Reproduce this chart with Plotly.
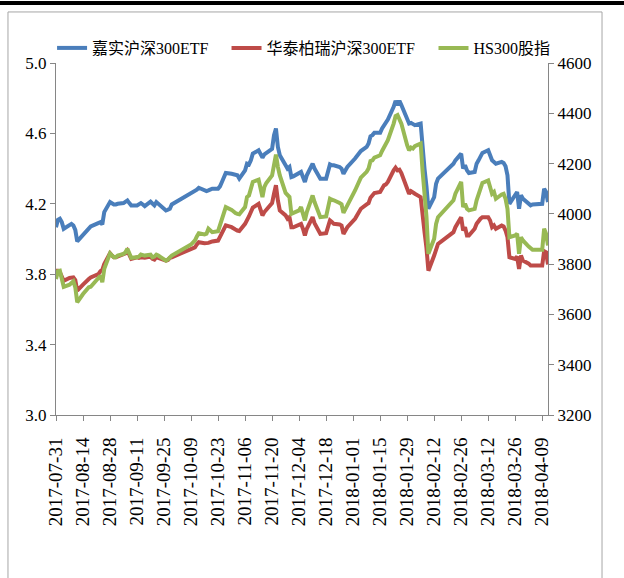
import plotly.graph_objects as go

# Trading dates (2017-07-31 .. 2018-04-12)
dates = [
    "2017-07-31", "2017-08-01", "2017-08-02", "2017-08-03", "2017-08-04",
    "2017-08-07", "2017-08-08", "2017-08-09", "2017-08-10", "2017-08-11",
    "2017-08-14", "2017-08-15", "2017-08-16", "2017-08-17", "2017-08-18",
    "2017-08-21", "2017-08-22", "2017-08-23", "2017-08-24", "2017-08-25",
    "2017-08-28", "2017-08-29", "2017-08-30", "2017-08-31", "2017-09-01",
    "2017-09-04", "2017-09-05", "2017-09-06", "2017-09-07", "2017-09-08",
    "2017-09-11", "2017-09-12", "2017-09-13", "2017-09-14", "2017-09-15",
    "2017-09-18", "2017-09-19", "2017-09-20", "2017-09-21", "2017-09-22",
    "2017-09-25", "2017-09-26", "2017-09-27", "2017-09-28", "2017-09-29",
    "2017-10-09", "2017-10-10", "2017-10-11", "2017-10-12", "2017-10-13",
    "2017-10-16", "2017-10-17", "2017-10-18", "2017-10-19", "2017-10-20",
    "2017-10-23", "2017-10-24", "2017-10-25", "2017-10-26", "2017-10-27",
    "2017-10-30", "2017-10-31", "2017-11-01", "2017-11-02", "2017-11-03",
    "2017-11-06", "2017-11-07", "2017-11-08", "2017-11-09", "2017-11-10",
    "2017-11-13", "2017-11-14", "2017-11-15", "2017-11-16", "2017-11-17",
    "2017-11-20", "2017-11-21", "2017-11-22", "2017-11-23", "2017-11-24",
    "2017-11-27", "2017-11-28", "2017-11-29", "2017-11-30", "2017-12-01",
    "2017-12-04", "2017-12-05", "2017-12-06", "2017-12-07", "2017-12-08",
    "2017-12-11", "2017-12-12", "2017-12-13", "2017-12-14", "2017-12-15",
    "2017-12-18", "2017-12-19", "2017-12-20", "2017-12-21", "2017-12-22",
    "2017-12-25", "2017-12-26", "2017-12-27", "2017-12-28", "2017-12-29",
    "2018-01-02", "2018-01-03", "2018-01-04", "2018-01-05",
    "2018-01-08", "2018-01-09", "2018-01-10", "2018-01-11", "2018-01-12",
    "2018-01-15", "2018-01-16", "2018-01-17", "2018-01-18", "2018-01-19",
    "2018-01-22", "2018-01-23", "2018-01-24", "2018-01-25", "2018-01-26",
    "2018-01-29", "2018-01-30", "2018-01-31", "2018-02-01", "2018-02-02",
    "2018-02-05", "2018-02-06", "2018-02-07", "2018-02-08", "2018-02-09",
    "2018-02-12", "2018-02-13", "2018-02-14",
    "2018-02-22", "2018-02-23",
    "2018-02-26", "2018-02-27", "2018-02-28", "2018-03-01", "2018-03-02",
    "2018-03-05", "2018-03-06", "2018-03-07", "2018-03-08", "2018-03-09",
    "2018-03-12", "2018-03-13", "2018-03-14", "2018-03-15", "2018-03-16",
    "2018-03-19", "2018-03-20", "2018-03-21", "2018-03-22", "2018-03-23",
    "2018-03-26", "2018-03-27", "2018-03-28", "2018-03-29", "2018-03-30",
    "2018-04-02", "2018-04-03", "2018-04-04",
    "2018-04-09", "2018-04-10", "2018-04-11", "2018-04-12",
]

# 嘉实沪深300ETF (left axis)
jiashi_etf = [
    4.067, 4.109, 4.115, 4.096, 4.058,
    4.077, 4.086, 4.077, 4.052, 3.986,
    4.026, 4.039, 4.045, 4.064, 4.071,
    4.086, 4.092, 4.096, 4.083, 4.153,
    4.210, 4.200, 4.196, 4.196, 4.200,
    4.204, 4.210, 4.219, 4.204, 4.191,
    4.191, 4.196, 4.204, 4.196, 4.187,
    4.212, 4.200, 4.191, 4.210, 4.200,
    4.172, 4.162, 4.166, 4.172, 4.196,
    4.257, 4.263, 4.271, 4.280, 4.291,
    4.276, 4.272, 4.276, 4.280, 4.286,
    4.286, 4.299, 4.324, 4.348, 4.375,
    4.371, 4.367, 4.364, 4.362, 4.343,
    4.390, 4.428, 4.424, 4.447, 4.485,
    4.504, 4.481, 4.462, 4.481, 4.489,
    4.512, 4.590, 4.628, 4.523, 4.476,
    4.419, 4.400, 4.409, 4.352, 4.356,
    4.371, 4.381, 4.352, 4.324, 4.362,
    4.428, 4.400, 4.381, 4.362, 4.343,
    4.343, 4.390, 4.424, 4.419, 4.419,
    4.409, 4.400, 4.371, 4.390, 4.409,
    4.457, 4.470, 4.485, 4.500,
    4.523, 4.542, 4.584, 4.590, 4.603,
    4.603, 4.628, 4.647, 4.660, 4.679,
    4.751, 4.785, 4.761, 4.785, 4.761,
    4.675, 4.656, 4.660, 4.656, 4.647,
    4.656, 4.510, 4.400, 4.300, 4.172,
    4.238, 4.314, 4.343,
    4.428, 4.447,
    4.485, 4.400, 4.419, 4.390, 4.375,
    4.381, 4.428, 4.447, 4.476, 4.489,
    4.504, 4.476, 4.447, 4.438, 4.428,
    4.438, 4.432, 4.413, 4.362, 4.200,
    4.254, 4.267, 4.172, 4.248, 4.229,
    4.200, 4.191, 4.196,
    4.200, 4.286, 4.267, 4.210,
]

# 华泰柏瑞沪深300ETF (left axis)
huatai_etf = [
    3.820, 3.820, 3.811, 3.786, 3.763,
    3.779, 3.782, 3.782, 3.767, 3.706,
    3.741, 3.754, 3.760, 3.773, 3.782,
    3.792, 3.801, 3.817, 3.824, 3.858,
    3.919, 3.906, 3.896, 3.896, 3.900,
    3.912, 3.919, 3.934, 3.906, 3.887,
    3.896, 3.893, 3.896, 3.896, 3.893,
    3.900, 3.887, 3.883, 3.896, 3.893,
    3.881, 3.877, 3.881, 3.893, 3.896,
    3.940, 3.948, 3.953, 3.969, 3.982,
    3.976, 3.976, 3.978, 3.982, 3.986,
    3.991, 4.010, 4.039, 4.058, 4.077,
    4.067, 4.058, 4.054, 4.048, 4.045,
    4.086, 4.115, 4.128, 4.153, 4.178,
    4.200, 4.172, 4.134, 4.153, 4.166,
    4.204, 4.257, 4.305, 4.219, 4.162,
    4.134, 4.115, 4.124, 4.067, 4.067,
    4.077, 4.086, 4.058, 4.020, 4.058,
    4.124, 4.090, 4.067, 4.052, 4.029,
    4.033, 4.077, 4.105, 4.096, 4.086,
    4.083, 4.077, 4.029, 4.052, 4.067,
    4.115, 4.134, 4.153, 4.172,
    4.197, 4.204, 4.235, 4.248, 4.261,
    4.267, 4.286, 4.305, 4.310, 4.324,
    4.390, 4.405, 4.390, 4.394, 4.375,
    4.286, 4.257, 4.272, 4.267, 4.257,
    4.238, 4.105, 4.040, 3.950, 3.820,
    3.906, 3.950, 3.972,
    4.039, 4.067,
    4.124, 4.048, 4.067, 4.020, 4.020,
    4.058, 4.086, 4.105, 4.115, 4.124,
    4.124, 4.105, 4.067, 4.077, 4.058,
    4.077, 4.071, 4.048, 4.010, 3.896,
    3.887, 3.900, 3.830, 3.906, 3.877,
    3.860, 3.849, 3.849,
    3.849, 3.931, 3.925, 3.855,
]

# HS300股指 (right axis)
hs300 = [
    3741, 3772, 3774, 3748, 3710,
    3718, 3724, 3732, 3708, 3648,
    3681, 3692, 3697, 3708, 3710,
    3734, 3741, 3754, 3728, 3781,
    3843, 3834, 3827, 3827, 3834,
    3841, 3847, 3861, 3841, 3825,
    3827, 3830, 3838, 3835, 3834,
    3838, 3827, 3830, 3838, 3834,
    3818, 3814, 3819, 3827, 3834,
    3878, 3886, 3894, 3910, 3923,
    3918, 3921, 3941, 3931, 3927,
    3931, 3954, 3980, 4003, 4027,
    4016, 4007, 4003, 4000, 3998,
    4027, 4067, 4073, 4100, 4127,
    4136, 4100, 4067, 4107, 4123,
    4153, 4193, 4236, 4187, 4153,
    4083, 4073, 4067, 4000, 4003,
    4014, 4027, 3998, 3974, 4007,
    4073, 4047, 4027, 4007, 3987,
    3990, 4027, 4060, 4056, 4054,
    4043, 4038, 4004, 4016, 4034,
    4093, 4109, 4127, 4144,
    4167, 4180, 4210, 4213, 4224,
    4233, 4250, 4266, 4280, 4293,
    4359, 4389, 4393, 4379, 4359,
    4273, 4253, 4264, 4260, 4269,
    4280, 4170, 4080, 3990, 3841,
    3901, 3960, 3987,
    4054, 4080,
    4127, 4027, 4040, 4020, 4014,
    4020, 4054, 4080, 4107, 4123,
    4133, 4107, 4080, 4087, 4060,
    4077, 4080, 4060, 4020, 3907,
    3914, 3921, 3841, 3907, 3894,
    3870, 3861, 3857,
    3857, 3941, 3921, 3874,
]

tick_dates = [
    "2017-07-31", "2017-08-14", "2017-08-28", "2017-09-11", "2017-09-25",
    "2017-10-09", "2017-10-23", "2017-11-06", "2017-11-20", "2017-12-04",
    "2017-12-18", "2018-01-01", "2018-01-15", "2018-01-29", "2018-02-12",
    "2018-02-26", "2018-03-12", "2018-03-26", "2018-04-09",
]

names = ["嘉实沪深300ETF", "华泰柏瑞沪深300ETF", "HS300股指"]
colors = ["#4A7EBB", "#BE4B48", "#98B954"]

serif = "Liberation Serif, Times New Roman, serif"
cjk = "Liberation Serif, Noto Sans CJK SC, sans-serif"
axis_grey = "#868686"

fig = go.Figure()
fig.add_trace(go.Scatter(x=dates, y=jiashi_etf, name=names[0], mode="lines",
                         line=dict(color=colors[0], width=4), yaxis="y",
                         legend="legend"))
fig.add_trace(go.Scatter(x=dates, y=huatai_etf, name=names[1], mode="lines",
                         line=dict(color=colors[1], width=4), yaxis="y",
                         legend="legend2"))
fig.add_trace(go.Scatter(x=dates, y=hs300, name=names[2], mode="lines",
                         line=dict(color=colors[2], width=4), yaxis="y2",
                         legend="legend3"))

tick_font = dict(family=serif, size=17, color="#000000")


def legend_at(xpos):
    return dict(
        orientation="h",
        x=xpos, xanchor="left",
        y=1.0426, yanchor="middle",
        font=dict(family=cjk, size=16, color="#000000"),
        itemwidth=30,
        bgcolor="rgba(0,0,0,0)",
    )


fig.update_layout(
    width=624,
    height=578,
    margin=dict(l=56, r=76, t=63, b=163),
    paper_bgcolor="white",
    plot_bgcolor="white",
    showlegend=True,
    legend=legend_at(-0.008),
    legend2=legend_at(0.3466),
    legend3=legend_at(0.7673),
    xaxis=dict(
        type="date",
        range=["2017-07-31", "2018-04-12"],
        tickvals=tick_dates,
        ticktext=tick_dates,
        tickangle=-90,
        tickfont=dict(family=serif, size=19, color="#000000"),
        showgrid=False,
        zeroline=False,
        showline=True,
        linecolor=axis_grey,
        linewidth=1,
        ticks="outside",
        ticklen=5,
        tickcolor=axis_grey,
        ticklabelstandoff=9,
    ),
    yaxis=dict(
        range=[3.0, 5.0],
        dtick=0.4,
        tick0=3.0,
        tickformat=".1f",
        tickfont=tick_font,
        showgrid=False,
        zeroline=False,
        showline=True,
        linecolor=axis_grey,
        linewidth=1,
        ticks="outside",
        ticklen=5,
        tickcolor=axis_grey,
    ),
    yaxis2=dict(
        range=[3200, 4600],
        dtick=200,
        tick0=3200,
        overlaying="y",
        side="right",
        tickfont=tick_font,
        showgrid=False,
        zeroline=False,
        showline=True,
        linecolor=axis_grey,
        linewidth=1,
        ticks="outside",
        ticklen=5,
        tickcolor=axis_grey,
    ),
    shapes=[
        # chart frame
        dict(type="rect", xref="paper", yref="paper",
             x0=-0.0976, x1=1.1098, y0=-0.6, y1=1.145,
             line=dict(color="#A6A6A6", width=1), fillcolor="rgba(0,0,0,0)",
             layer="below"),
        # heavy rule across the top
        dict(type="line", xref="paper", yref="paper",
             x0=-0.12, x1=1.16, y0=1.1705, y1=1.1705,
             line=dict(color="#000000", width=4)),
    ],
)

fig.write_html("out.html")
